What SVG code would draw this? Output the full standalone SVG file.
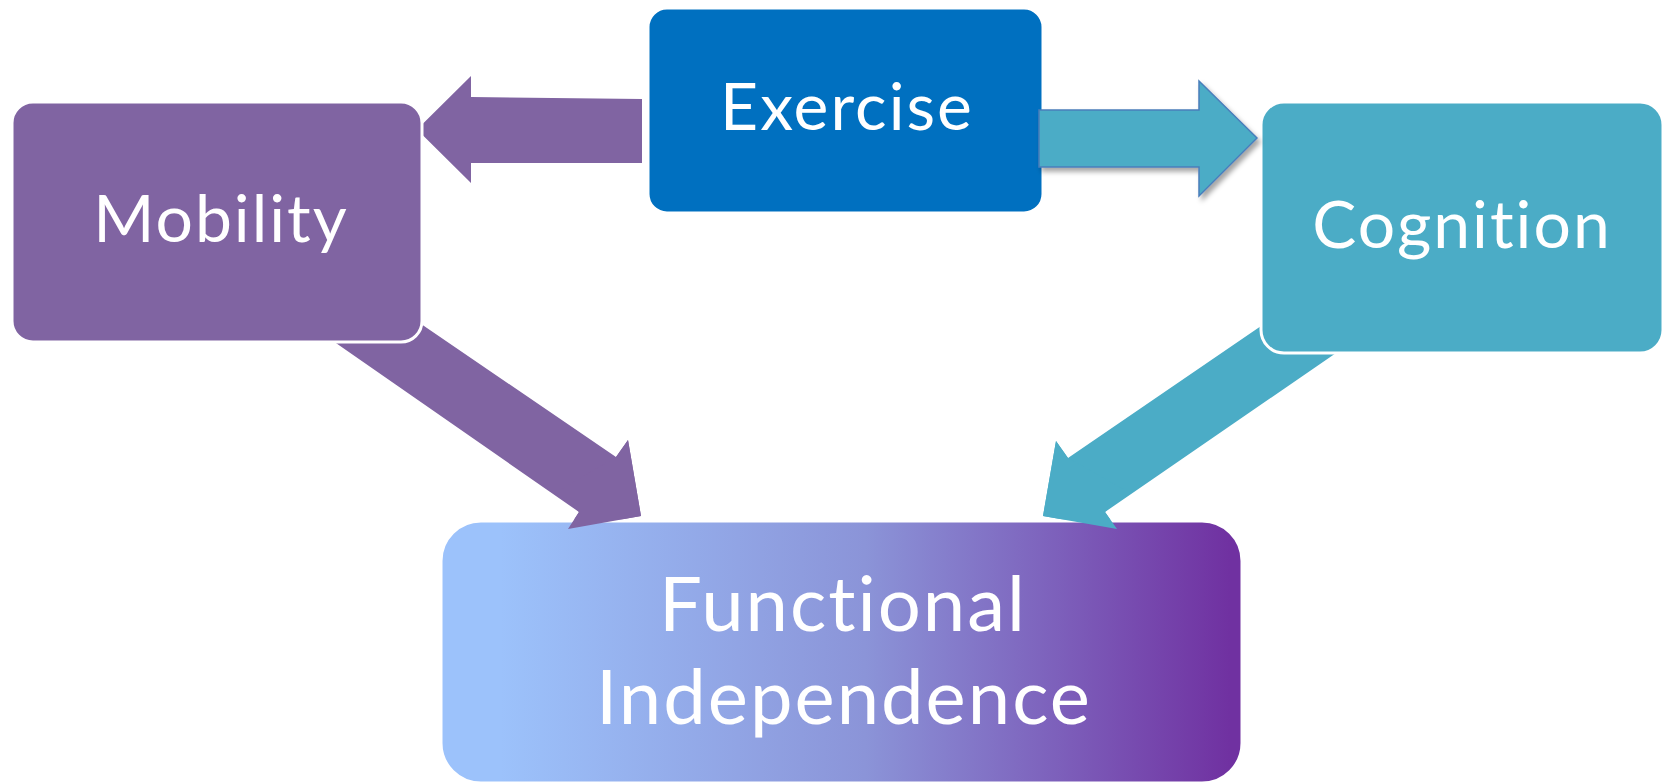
<svg xmlns="http://www.w3.org/2000/svg" width="1665" height="783" viewBox="0 0 1665 783">
  <defs>
    <linearGradient id="fiGrad" gradientUnits="userSpaceOnUse" x1="500" y1="0" x2="1230" y2="0">
      <stop offset="0" stop-color="#9CC2FB"/>
      <stop offset="0.5" stop-color="#8B94D8"/>
      <stop offset="1" stop-color="#7031A1"/>
    </linearGradient>
    <filter id="shadow" x="-10%" y="-20%" width="130%" height="150%">
      <feDropShadow dx="3" dy="4" stdDeviation="2.5" flood-color="#000" flood-opacity="0.35"/>
    </filter>
  </defs>
  <style>
    .box { stroke: #ffffff; stroke-width: 3; }
    .label { font-family: Lato, "Liberation Sans", sans-serif; fill: #ffffff; text-anchor: middle;
             font-variant-ligatures: none; font-feature-settings: "liga" 0, "clig" 0; letter-spacing: 2px; }
    .small { font-size: 66px; }
    .big { font-size: 76px; }
    .purple { fill: #8064A2; }
    .teal { fill: #4BACC6; }
  </style>

  <rect width="1665" height="783" fill="#ffffff"/>

  <!-- connectors -->
  <g id="connectors">
    <!-- Exercise -> Mobility -->
    <polygon id="arrow-exercise-mobility" class="purple" points="642,99 471,97 471,76 417,129.5 471,183 471,163 642,163"/>
    <!-- Mobility -> Functional Independence -->
    <polygon id="arrow-mobility-fi" class="purple" points="274,300 386,300 616,457 628,440 641,516 568,529 579,512"/>
    <!-- Cognition -> Functional Independence -->
    <polygon id="arrow-cognition-fi" class="teal" points="1299,300 1413,300 1105,512 1117,529 1043,516 1056,441 1068,458"/>
  </g>

  <!-- Functional Independence -->
  <g id="node-functional-independence">
    <rect class="box" x="441" y="521" width="801" height="262" rx="40" ry="40" fill="url(#fiGrad)"/>
    <text class="label big" x="843" y="631">Functional</text>
    <text class="label big" x="844" y="724">Independence</text>
  </g>

  <!-- arrowheads overlapping the Functional Independence box -->
  <g id="connector-heads">
    <polygon class="purple" points="560,490 616,457 628,440 641,516 568,529 579,512"/>
    <polygon class="teal" points="1068,458 1056,441 1043,516 1117,529 1105,512 1125,490"/>
  </g>

  <!-- Mobility -->
  <g id="node-mobility">
    <rect class="box" x="12" y="102" width="410" height="240" rx="21" ry="21" fill="#8064A2"/>
    <text class="label small" x="221" y="242">Mobility</text>
  </g>

  <!-- Cognition -->
  <g id="node-cognition">
    <rect class="box" x="1261" y="102" width="402" height="251" rx="23" ry="23" fill="#4BACC6"/>
    <text class="label small" x="1462" y="248">Cognition</text>
  </g>

  <!-- Exercise -->
  <g id="node-exercise">
    <rect class="box" x="648" y="8" width="395" height="205" rx="19" ry="19" fill="#0070C0"/>
    <text class="label small" x="847" y="130">Exercise</text>
  </g>

  <!-- Exercise -> Cognition (drawn above the Exercise box) -->
  <g id="connector-exercise-cognition">
    <polygon class="teal" filter="url(#shadow)" stroke="#4A7EBB" stroke-width="1.5" points="1039,110 1199,110 1199,81 1257,138 1199,196 1199,167 1039,167"/>
  </g>
</svg>
